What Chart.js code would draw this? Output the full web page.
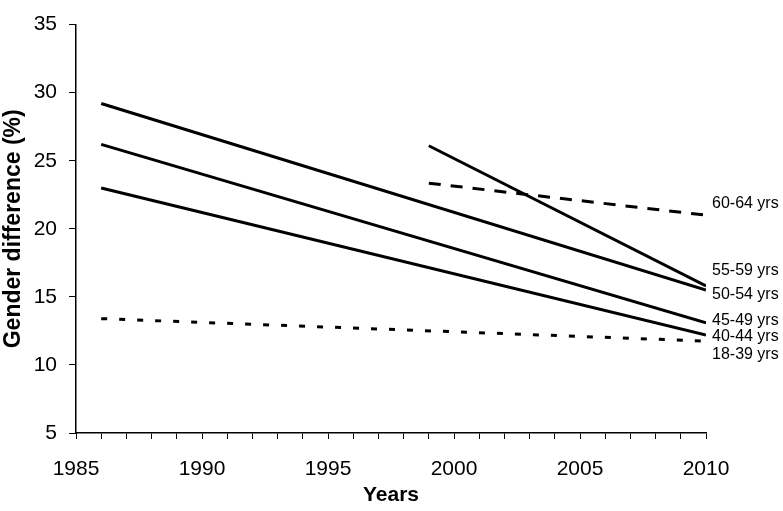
<!DOCTYPE html>
<html>
<head>
<meta charset="utf-8">
<script src="https://cdn.jsdelivr.net/npm/chart.js@4/dist/chart.umd.min.js"></script>
<style>
  html, body { margin: 0; padding: 0; background: #fff; }
  #wrap { width: 783px; height: 511px; }
</style>
</head>
<body>
<div id="wrap"><canvas id="chart_gender"></canvas></div>
<script>
// -------------------- data
var seriesNames = ['18-39 yrs', '40-44 yrs', '45-49 yrs', '50-54 yrs', '55-59 yrs', '60-64 yrs'];
var yearsLong = [1986, 2010];
var yearsShort = [1999, 2010];
var v18_39 = [13.4, 11.75];
var v40_44 = [23.0, 12.2];
var v45_49 = [26.2, 13.1];
var v50_54 = [29.2, 15.5];
var v55_59 = [26.1, 15.8];
var v60_64 = [23.35, 21.0];
var yTicks = [5, 10, 15, 20, 25, 30, 35];
var xTickLabels = [1985, 1990, 1995, 2000, 2005, 2010];

var seriesYears = [yearsLong, yearsLong, yearsLong, yearsLong, yearsShort, yearsShort];
var seriesVals = [v18_39, v40_44, v45_49, v50_54, v55_59, v60_64];
var seriesDash = [[6, 12], [], [], [], [], [12, 10]];
// pixel nudges for the end labels so they don't overlap (as in the figure)
var labelNudge = [13, 2, -2, 5, -15, -12];

var FONT = '"Liberation Sans", Arial, Helvetica, sans-serif';

function pts(xs, ys){
	var out = [];
	for(var i = 0;i<xs.length;i++){
		out.push({x: xs[i], y: ys[i]});
	}
	return out;
}

var dtsheet = [];
for(var i = 0;i<seriesNames.length;i++){
	dtsheet[i] = {
		label : seriesNames[i],
		data : pts(seriesYears[i], seriesVals[i]),
		borderColor : '#000',
		backgroundColor : '#000',
		borderWidth : 3,
		borderDash : seriesDash[i],
		pointRadius : 0,
		fill : false,
		tension : 0
	};
}

// draws "xx-yy yrs" to the right of each line end
var endLabels = {
	id: 'endLabels',
	afterDatasetsDraw: function(chart){
		var ctx = chart.ctx;
		ctx.save();
		ctx.font = '16px ' + FONT;
		ctx.fillStyle = '#000';
		ctx.textBaseline = 'middle';
		ctx.textAlign = 'left';
		for(var i = 0;i<chart.data.datasets.length;i++){
			var meta = chart.getDatasetMeta(i);
			var last = meta.data[meta.data.length-1];
			ctx.fillText(chart.data.datasets[i].label, chart.chartArea.right + 6, last.y + labelNudge[i]);
		}
		ctx.restore();
	}
};

var ctx = document.getElementById('chart_gender').getContext('2d');
window.chart_gender = new Chart(ctx, {
	type: 'line',
	data: { datasets: dtsheet },
	plugins: [endLabels],
	options: {
		responsive: true,
		maintainAspectRatio: false,
		animation: false,
		layout: { padding: { top: 14, right: 77, left: 0, bottom: 0 } },
		plugins: {
			legend: { display: false },
			tooltip: { enabled: false }
		},
		scales: {
			x: {
				type: 'linear',
				min: 1985, max: 2010,
				afterFit: function(s){ s.height = 78; },
				afterBuildTicks: function(s){
					var t = [];
					for(var y = 1985;y<=2010;y++){ t.push({value: y}); }
					s.ticks = t;
				},
				ticks: {
					autoSkip: false,
					maxRotation: 0,
					padding: 18,
					color: '#000',
					font: { family: FONT, size: 21 },
					callback: function(v){ return xTickLabels.indexOf(v) >= 0 ? String(v) : ''; }
				},
				grid: { drawOnChartArea: false, drawTicks: true, tickLength: 6, tickColor: '#000', tickWidth: 1 },
				border: { display: true, color: '#000', width: 1.5 },
				title: { display: true, text: 'Years', color: '#000', font: { family: FONT, size: 21, weight: 'bold' }, padding: { top: 0, bottom: 3 } }
			},
			y: {
				min: 5, max: 35,
				afterFit: function(s){ s.width = 76; },
				afterBuildTicks: function(s){
					s.ticks = yTicks.map(function(v){ return {value: v}; });
				},
				ticks: {
					padding: 12,
					color: '#000',
					font: { family: FONT, size: 21 }
				},
				grid: { drawOnChartArea: false, drawTicks: true, tickLength: 7, tickColor: '#000', tickWidth: 1 },
				border: { display: true, color: '#000', width: 1.5 },
				title: { display: true, text: 'Gender difference (%)', color: '#000', font: { family: FONT, size: 23, weight: 'bold' }, padding: { top: 0, bottom: 0 } }
			}
		}
	}
});
</script>
</body>
</html>
